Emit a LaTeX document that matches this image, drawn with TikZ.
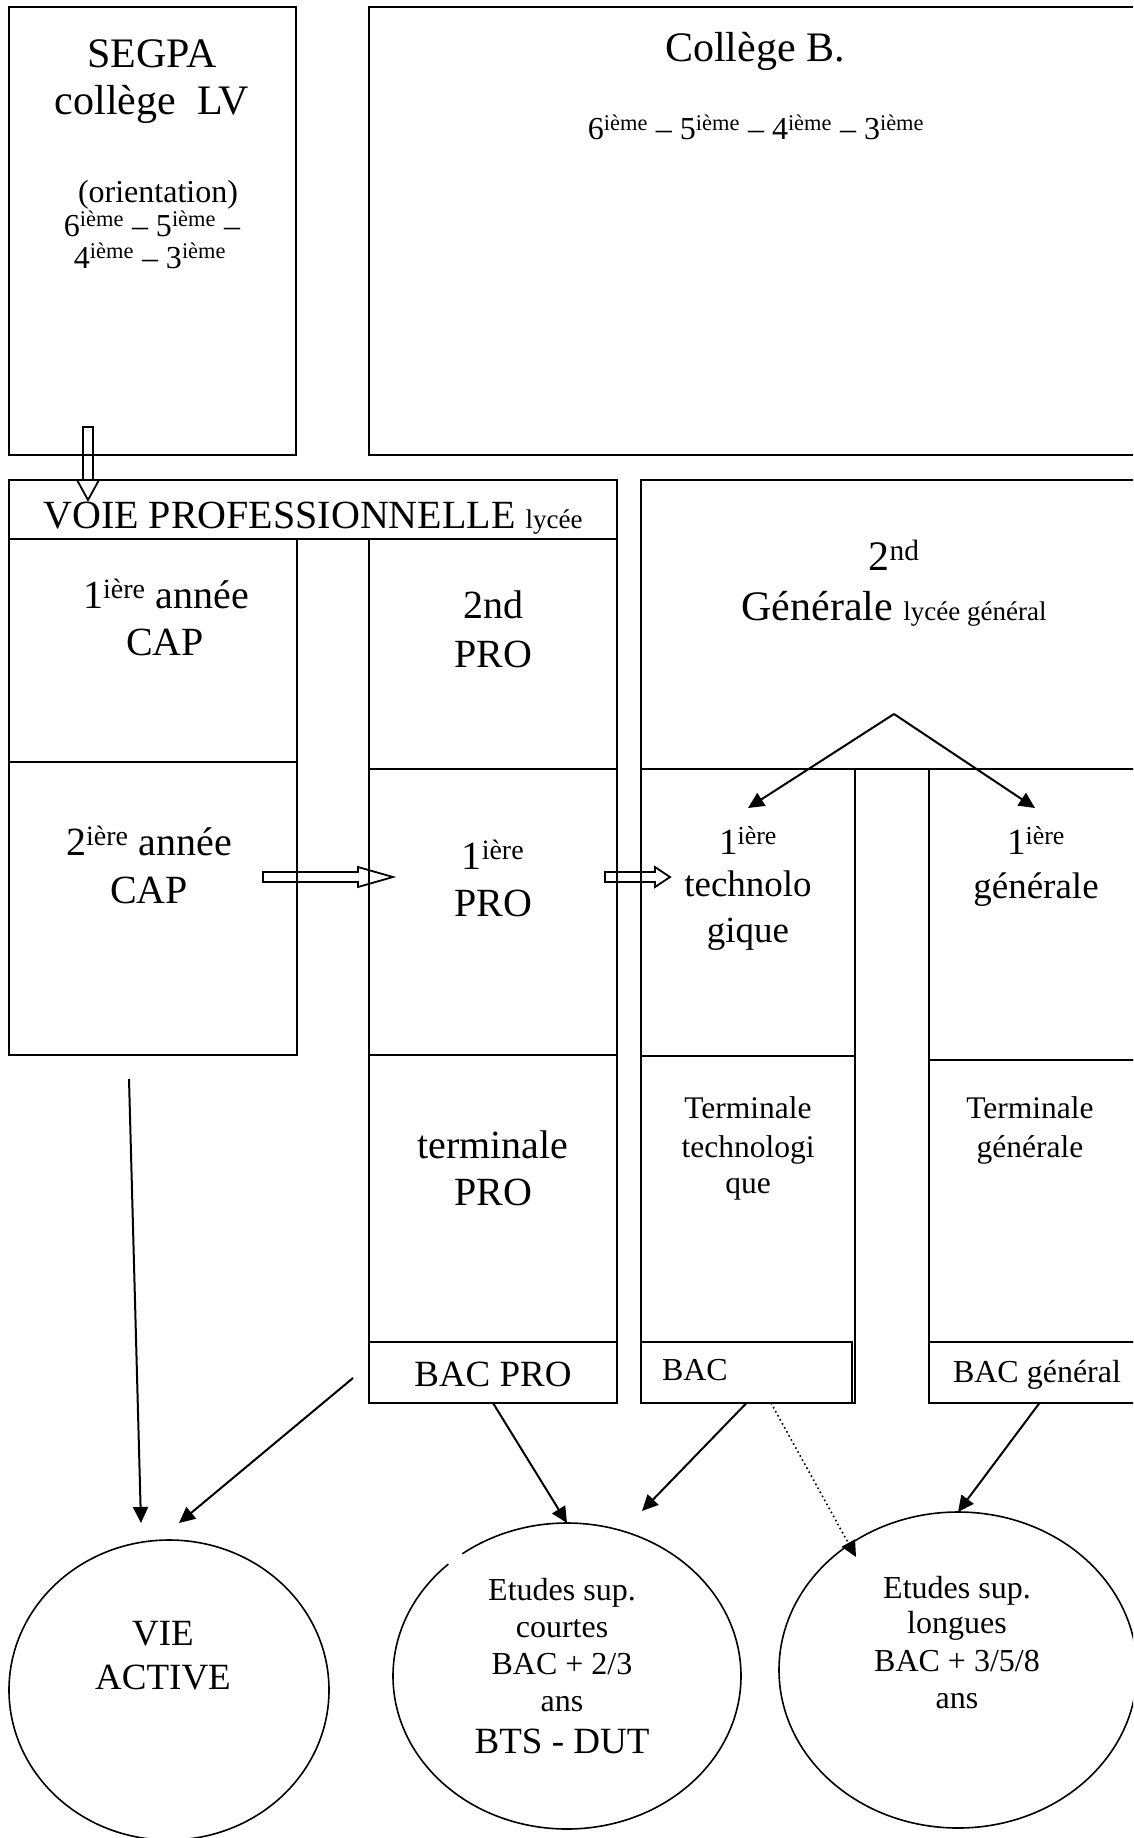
\documentclass[tikz,border=0pt]{standalone}
\usepackage{fontspec}
\setmainfont{Liberation Serif}
\usetikzlibrary{shapes.geometric,arrows.meta,calc}
\newcommand\fsz[1]{\fontsize{#1}{#1}\selectfont}
\newcommand\supx[1]{\textsuperscript{#1}}
\newcommand\mybox[5]{\node[boxst,minimum width={#4pt-#2pt},minimum height={#5pt-#3pt}] (#1) at (#2,#3) {};}
\newcommand\mytext[5]{\node[txt,font=\fsz{#4}] (#1) at (#2,#3) {#5};}
\begin{document}
\begin{tikzpicture}[x=1pt,y=-1pt,
  boxst/.style={draw,line width=2pt,rectangle,inner sep=0pt,outer sep=0pt,anchor=north west},
  txt/.style={inner sep=0pt,outer sep=0pt,anchor=base},
  ell/.style={ellipse,inner sep=0pt,outer sep=0pt,line width=1.6pt},
  arr/.style={line width=2pt,-{Triangle[length=16pt,width=15pt]}},
  dotarr/.style={line width=1.6pt,dash pattern=on 1.6pt off 3pt,-{Triangle[length=16pt,width=15pt]}},
  hollow/.style={line width=1.8pt,line join=miter}]
\useasboundingbox (0,0) rectangle (1133,1838);
\clip (0,0) rectangle (1133,1838);

% boxes
\mybox{segpa}{9}{7}{296}{455}
\mybox{college}{369}{7}{1150}{455}
\mybox{header}{9}{480}{617}{539}
\mybox{capa}{9}{539}{297}{762}
\mybox{capb}{9}{762}{297}{1055}
\mybox{proa}{369}{539}{617}{769}
\mybox{prob}{369}{769}{617}{1055}
\mybox{proc}{369}{1055}{617}{1342}
\mybox{bacpro}{369}{1342}{617}{1403}
\mybox{gena}{641}{480}{1150}{769}
\mybox{techa}{641}{769}{855}{1056}
\mybox{techb}{641}{1056}{855}{1403}
\mybox{bac}{641}{1342}{852}{1403}
\mybox{genb}{929}{769}{1150}{1060}
\mybox{genc}{929}{1060}{1150}{1342}
\mybox{bacgen}{929}{1342}{1150}{1403}

% ellipses
\node[ell,draw,minimum width=320pt,minimum height=300pt] (vie) at (169,1690) {};
\node[ell,minimum width=348pt,minimum height=306pt] (courtes) at (567,1676) {};
\draw[line width=1.6pt] ($(courtes.center)+(133:174pt and 153pt)$) arc[start angle=133,end angle=487,x radius=174pt,y radius=153pt];
\node[ell,draw,minimum width=358pt,minimum height=316pt] (longues) at (958,1670) {};

% texts
\mytext{tsegpa}{152}{68}{42}{SEGPA}
\mytext{tcollv}{152}{115}{42}{collège\ \ LV}
\mytext{torient}{158}{203}{32}{(orientation)}
\mytext{tsega}{152}{236}{32}{6\supx{ième} – 5\supx{ième} –}
\mytext{tsegb}{150}{268}{32}{4\supx{ième} – 3\supx{ième}}
\mytext{tcolb}{755}{62}{42}{Collège B.}
\mytext{tcolc}{756}{140}{32}{6\supx{ième} – 5\supx{ième} – 4\supx{ième} – 3\supx{ième}}
\mytext{tvoie}{313}{528}{40}{VOIE PROFESSIONNELLE {\fsz{27}lycée}}
\mytext{tcapa}{166}{608}{40}{1\supx{ière} année}
\mytext{tcapb}{165}{655}{40}{CAP}
\mytext{tcapc}{149}{855}{40}{2\supx{ière} année}
\mytext{tcapd}{149}{903}{40}{CAP}
\mytext{tpa}{493}{618}{40}{2nd}
\mytext{tpb}{493}{667}{40}{PRO}
\mytext{tpc}{493}{869}{40}{1\supx{ière}}
\mytext{tpd}{493}{916}{40}{PRO}
\mytext{tpe}{493}{1158}{40}{terminale}
\mytext{tpf}{493}{1205}{40}{PRO}
\mytext{tbacpro}{493}{1386}{37}{BAC PRO}
\mytext{tga}{894}{570}{42}{2\supx{nd}}
\mytext{tgb}{894}{620}{42}{Générale {\fsz{27}lycée général}}
\mytext{tta}{748}{854}{37}{1\supx{ière}}
\mytext{ttb}{748}{896}{37}{technolo}
\mytext{ttc}{748}{942}{37}{gique}
\mytext{tgc}{1036}{854}{37}{1\supx{ière}}
\mytext{tgd}{1036}{898}{37}{générale}
\mytext{ttd}{748}{1118}{31.5}{Terminale}
\mytext{tte}{748}{1157}{31.5}{technologi}
\mytext{ttf}{748}{1193}{31.5}{que}
\mytext{tge}{1030}{1118}{31.5}{Terminale}
\mytext{tgf}{1030}{1157}{31.5}{générale}
\node[txt,anchor=base west,font=\fsz{32}] (tbac) at (662,1380) {BAC};
\node[txt,anchor=base west,font=\fsz{32}] (tbacgen) at (953,1382) {BAC général};
\mytext{tvie}{163}{1645}{37}{VIE}
\mytext{tactive}{163}{1689}{37}{ACTIVE}
\mytext{tca}{562}{1600}{32}{Etudes sup.}
\mytext{tcb}{562}{1637}{32}{courtes}
\mytext{tcc}{562}{1674}{32}{BAC + 2/3}
\mytext{tcd}{562}{1711}{32}{ans}
\mytext{tce}{562}{1753}{37}{BTS - DUT}
\mytext{tla}{957}{1598}{32}{Etudes sup.}
\mytext{tlb}{957}{1633}{32}{longues}
\mytext{tlc}{957}{1671}{32}{BAC + 3/5/8}
\mytext{tld}{957}{1708}{32}{ans}

% hollow block arrows
\draw[hollow] (83,427) -- (93,427) -- (93,480) -- (99,480) -- (88,500) -- (77,480) -- (83,480) -- cycle;
\draw[hollow] (263,872) -- (358,872) -- (358,867) -- (393,877) -- (358,887) -- (358,882) -- (263,882) -- cycle;
\draw[hollow] (605,872) -- (655,872) -- (655,867) -- (670,877) -- (655,887) -- (655,882) -- (605,882) -- cycle;

% connectors
\coordinate (apex) at (894,714);
\coordinate (techtip) at (748,808);
\coordinate (gentip) at (1035,808);
\draw[arr] (apex) -- (techtip);
\draw[arr] (apex) -- (gentip);
\coordinate (capout) at (129,1079);
\coordinate (vieA) at (141,1523);
\coordinate (bpout) at (353,1378);
\coordinate (vieB) at (179,1523);
\draw[arr] (capout) -- (vieA);
\draw[arr] (bpout) -- (vieB);
\draw[arr] (bacpro.south) -- (courtes.north);
\coordinate (courtesA) at (642,1511);
\draw[arr] (bac.south) -- (courtesA);
\coordinate (bacdot) at (771,1403);
\coordinate (longuesA) at (856,1557);
\draw[dotarr] (bacdot) -- (longuesA);
\draw[arr] (bacgen.south) -- (longues.north);
\end{tikzpicture}
\end{document}
